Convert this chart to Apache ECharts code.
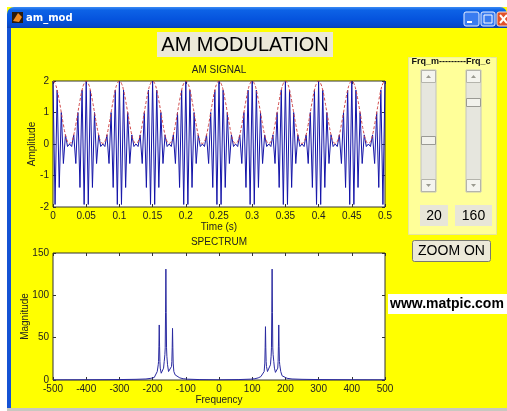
<!DOCTYPE html>
<html>
<head>
<meta charset="utf-8">
<script src="https://cdn.jsdelivr.net/npm/echarts@6/dist/echarts.min.js"></script>
<style>html,body{margin:0;padding:0;background:#fff;}#c{width:507px;height:411px;}</style>
</head>
<body>
<div id="c"></div>
<script>
// ---- AM signal (time in s) ----
const TIME = [
0,0.003125,0.00625,0.009375,0.0125,0.015625,0.01875,0.021875,0.025,0.028125,0.03125,0.034375,0.0375,0.040625,0.04375,0.046875,
0.05,0.053125,0.05625,0.059375,0.0625,0.065625,0.06875,0.071875,0.075,0.078125,0.08125,0.084375,0.0875,0.090625,0.09375,0.096875,
0.1,0.103125,0.10625,0.109375,0.1125,0.115625,0.11875,0.121875,0.125,0.128125,0.13125,0.134375,0.1375,0.140625,0.14375,0.146875,
0.15,0.153125,0.15625,0.159375,0.1625,0.165625,0.16875,0.171875,0.175,0.178125,0.18125,0.184375,0.1875,0.190625,0.19375,0.196875,
0.2,0.203125,0.20625,0.209375,0.2125,0.215625,0.21875,0.221875,0.225,0.228125,0.23125,0.234375,0.2375,0.240625,0.24375,0.246875,
0.25,0.253125,0.25625,0.259375,0.2625,0.265625,0.26875,0.271875,0.275,0.278125,0.28125,0.284375,0.2875,0.290625,0.29375,0.296875,
0.3,0.303125,0.30625,0.309375,0.3125,0.315625,0.31875,0.321875,0.325,0.328125,0.33125,0.334375,0.3375,0.340625,0.34375,0.346875,
0.35,0.353125,0.35625,0.359375,0.3625,0.365625,0.36875,0.371875,0.375,0.378125,0.38125,0.384375,0.3875,0.390625,0.39375,0.396875,
0.4,0.403125,0.40625,0.409375,0.4125,0.415625,0.41875,0.421875,0.425,0.428125,0.43125,0.434375,0.4375,0.440625,0.44375,0.446875,
0.45,0.453125,0.45625,0.459375,0.4625,0.465625,0.46875,0.471875,0.475,0.478125,0.48125,0.484375,0.4875,0.490625,0.49375,0.496875,
0.5];
const SIGNAL = [
2,-1.92,1.71,-1.38,1,-0.62,0.29,-0.08,0,-0.08,0.29,-0.62,1,-1.38,1.71,-1.92,
2,-1.92,1.71,-1.38,1,-0.62,0.29,-0.08,0,-0.08,0.29,-0.62,1,-1.38,1.71,-1.92,
2,-1.92,1.71,-1.38,1,-0.62,0.29,-0.08,0,-0.08,0.29,-0.62,1,-1.38,1.71,-1.92,
2,-1.92,1.71,-1.38,1,-0.62,0.29,-0.08,0,-0.08,0.29,-0.62,1,-1.38,1.71,-1.92,
2,-1.92,1.71,-1.38,1,-0.62,0.29,-0.08,0,-0.08,0.29,-0.62,1,-1.38,1.71,-1.92,
2,-1.92,1.71,-1.38,1,-0.62,0.29,-0.08,0,-0.08,0.29,-0.62,1,-1.38,1.71,-1.92,
2,-1.92,1.71,-1.38,1,-0.62,0.29,-0.08,0,-0.08,0.29,-0.62,1,-1.38,1.71,-1.92,
2,-1.92,1.71,-1.38,1,-0.62,0.29,-0.08,0,-0.08,0.29,-0.62,1,-1.38,1.71,-1.92,
2,-1.92,1.71,-1.38,1,-0.62,0.29,-0.08,0,-0.08,0.29,-0.62,1,-1.38,1.71,-1.92,
2,-1.92,1.71,-1.38,1,-0.62,0.29,-0.08,0,-0.08,0.29,-0.62,1,-1.38,1.71,-1.92,
2];
const ENVELOPE = [
2,1.92,1.71,1.38,1,0.62,0.29,0.08,0.02,0.08,0.29,0.62,1,1.38,1.71,1.92,
2,1.92,1.71,1.38,1,0.62,0.29,0.08,0.02,0.08,0.29,0.62,1,1.38,1.71,1.92,
2,1.92,1.71,1.38,1,0.62,0.29,0.08,0.02,0.08,0.29,0.62,1,1.38,1.71,1.92,
2,1.92,1.71,1.38,1,0.62,0.29,0.08,0.02,0.08,0.29,0.62,1,1.38,1.71,1.92,
2,1.92,1.71,1.38,1,0.62,0.29,0.08,0.02,0.08,0.29,0.62,1,1.38,1.71,1.92,
2,1.92,1.71,1.38,1,0.62,0.29,0.08,0.02,0.08,0.29,0.62,1,1.38,1.71,1.92,
2,1.92,1.71,1.38,1,0.62,0.29,0.08,0.02,0.08,0.29,0.62,1,1.38,1.71,1.92,
2,1.92,1.71,1.38,1,0.62,0.29,0.08,0.02,0.08,0.29,0.62,1,1.38,1.71,1.92,
2,1.92,1.71,1.38,1,0.62,0.29,0.08,0.02,0.08,0.29,0.62,1,1.38,1.71,1.92,
2,1.92,1.71,1.38,1,0.62,0.29,0.08,0.02,0.08,0.29,0.62,1,1.38,1.71,1.92,
2];
// ---- Spectrum ----
const FREQ = [-500,-400,-300,-250,-220,-205,-195,-190,-186,-183,-182,-181,-180,-179,-178,-177,-174,-170,-167,-165,-163,-162,-161,-160,-159,-158,-157,-155,-152,-149,-146,-143,-142,-141,-140,-139,-138,-136,-132,-126,-118,-108,-95,-60,
0,60,95,108,118,126,132,136,138,139,140,141,142,143,146,149,152,155,157,158,159,160,161,162,163,165,167,170,174,177,178,179,180,181,182,183,186,190,195,205,220,250,300,400,500];
const MAG = [0.2,0.3,0.5,0.8,1.2,2,3,5,10,18,22,40,65,40,22,14,8,9,14,22,30,38,80,131,80,38,28,18,10,8,10,16,22,38,61,38,20,10,6,4,2.5,1.5,1,0.5,
0.2,0.5,1,1.5,2.5,4,6,10,20,38,63,38,22,16,10,8,10,18,28,38,80,131,80,38,30,22,14,9,8,14,22,40,65,40,22,18,10,5,3,2,1.2,0.8,0.5,0.3,0.2];

const AMP_TICKS = ['-2','-1','0','1','2'];
const TIME_TICKS = ['0','0.05','0.1','0.15','0.2','0.25','0.3','0.35','0.4','0.45','0.5'];
const FREQ_TICKS = ['-500','-400','-300','-200','-100','0','100','200','300','400','500'];
const MAG_TICKS = ['0','50','100','150'];
const SLIDER_VALUES = ['20','160'];

const FONT = 'Liberation Sans, Arial, sans-serif';
const lbl = {fontSize:10, color:'#222', fontFamily:FONT};
const tick = {show:true, inside:true, length:3, lineStyle:{color:'#333'}};

function xAx(grid, min, max, interval, labels, name, gap, main){
  return {type:'value', gridIndex:grid, min, max, interval, position: main?'bottom':'top',
    axisLine:{show:false, onZero:false}, axisTick:tick, splitLine:{show:false},
    axisLabel: main ? Object.assign({margin:4, formatter:(v)=>labels[Math.round((v-min)/interval)]}, lbl) : {show:false},
    name: main?name:'', nameLocation:'middle', nameGap:gap, nameTextStyle:lbl};
}
function yAx(grid, min, max, interval, labels, name, gap, main){
  return {type:'value', gridIndex:grid, min, max, interval, position: main?'left':'right',
    axisLine:{show:false, onZero:false}, axisTick:tick, splitLine:{show:false},
    axisLabel: main ? Object.assign({margin:4, formatter:(v)=>labels[Math.round((v-min)/interval)]}, lbl) : {show:false},
    name: main?name:'', nameLocation:'middle', nameGap:gap, nameMoveOverlap:false, nameTextStyle:lbl};
}

const chart = echarts.init(document.getElementById('c'), null, {renderer:'canvas'});

function arrow(x, y, up){
  const cx = x+7.5;
  return {type:'polygon', z:10, shape:{points: up ? [[cx-2.5,y+2],[cx+2.5,y+2],[cx,y-1]] : [[cx-2.5,y-1],[cx+2.5,y-1],[cx,y+2]]}, style:{fill:'#9a9a90'}};
}
function slider(x, thumbY){
  return [
    {type:'rect', z:10, shape:{x:x,y:70,width:15,height:122}, style:{fill:'#e6e6de', stroke:'#c4c4bc', lineWidth:1}},
    {type:'rect', z:10, shape:{x:x+0.5,y:70.5,width:14,height:12}, style:{fill:'#f4f4ee', stroke:'#b4b4ac', lineWidth:1}},
    arrow(x, 76, true),
    {type:'rect', z:10, shape:{x:x+0.5,y:179.5,width:14,height:12}, style:{fill:'#f4f4ee', stroke:'#b4b4ac', lineWidth:1}},
    arrow(x, 185, false),
    {type:'rect', z:10, shape:{x:x+0.5,y:thumbY+0.5,width:14,height:8}, style:{fill:'#f2f2ec', stroke:'#9a9a94', lineWidth:1}}
  ];
}

const graphic = [
  {type:'rect', z:1, shape:{x:0,y:0,width:507,height:7}, style:{fill:'#fff'}},
  {type:'rect', z:1, shape:{x:0,y:0,width:7,height:411}, style:{fill:'#fff'}},
  {type:'rect', z:2, shape:{x:7,y:20,width:4,height:391}, style:{fill:'#1452d4'}},
  {type:'rect', z:2, shape:{x:7,y:7,width:500,height:21,r:[7,7,0,0]}, style:{fill:new echarts.graphic.LinearGradient(0,0,0,1,[
    {offset:0,color:'#3b8cf5'},{offset:0.15,color:'#0d62e6'},{offset:0.6,color:'#0553dd'},{offset:0.9,color:'#0648c8'},{offset:1,color:'#0a3fae'}])}},
  {type:'rect', z:3, shape:{x:12,y:12,width:11,height:11}, style:{fill:'#2a1a10'}},
  {type:'polygon', z:4, shape:{points:[[13,21],[18,13],[22,17],[19,22]]}, style:{fill:'#f08a20'}},
  {type:'text', z:3, x:26, y:18, style:{text:'am_mod', fill:'#fff', font:'bold 10px "DejaVu Sans", sans-serif', verticalAlign:'middle'}},
  {type:'rect', z:3, shape:{x:464,y:12,width:15,height:14,r:2}, style:{fill:'#3a7cf0', stroke:'#e8f0ff', lineWidth:1}},
  {type:'rect', z:4, shape:{x:467,y:21,width:5,height:2}, style:{fill:'#fff'}},
  {type:'rect', z:3, shape:{x:481,y:12,width:14,height:14,r:2}, style:{fill:'#3a7cf0', stroke:'#e8f0ff', lineWidth:1}},
  {type:'rect', z:4, shape:{x:484,y:15,width:8,height:8}, style:{fill:'none', stroke:'#fff', lineWidth:1}},
  {type:'rect', z:3, shape:{x:497,y:12,width:14,height:14,r:2}, style:{fill:'#e2522a', stroke:'#f4e0d8', lineWidth:1}},
  {type:'polyline', z:4, shape:{points:[[500,15],[507,23]]}, style:{stroke:'#fff', lineWidth:2}},
  {type:'polyline', z:4, shape:{points:[[507,15],[500,23]]}, style:{stroke:'#fff', lineWidth:2}},
  {type:'rect', z:2, shape:{x:7,y:408,width:500,height:3}, style:{fill:'#c8c8c0'}},
  // title
  {type:'rect', z:3, shape:{x:157,y:32,width:176,height:25}, style:{fill:'#ece9d8'}},
  {type:'text', z:4, x:245, y:45, style:{text:'AM MODULATION', fill:'#000', font:'20px "Liberation Sans", Arial, sans-serif', align:'center', verticalAlign:'middle'}},
  {type:'text', z:4, x:219, y:70, style:{text:'AM SIGNAL', fill:'#222', font:'10px "Liberation Sans", Arial, sans-serif', align:'center', verticalAlign:'middle'}},
  {type:'text', z:4, x:219, y:242, style:{text:'SPECTRUM', fill:'#222', font:'10px "Liberation Sans", Arial, sans-serif', align:'center', verticalAlign:'middle'}},
  // control panel
  {type:'rect', z:3, shape:{x:408.5,y:57.5,width:88,height:177}, style:{fill:'#ffff99', stroke:'#e6e6a0', lineWidth:1}},
  {type:'text', z:4, x:451, y:62, style:{text:'Frq_m---------Frq_c', fill:'#111', font:'bold 9px "Liberation Sans", Arial, sans-serif', align:'center', verticalAlign:'middle', backgroundColor:'#ffff99'}},
  ...slider(421, 136),
  ...slider(466, 98),
  {type:'rect', z:10, shape:{x:420,y:205,width:28,height:21}, style:{fill:'#e8e6d8'}},
  {type:'text', z:11, x:434, y:216, style:{text:SLIDER_VALUES[0], fill:'#000', font:'14px "Liberation Sans", Arial, sans-serif', align:'center', verticalAlign:'middle'}},
  {type:'rect', z:10, shape:{x:455,y:205,width:37,height:21}, style:{fill:'#e8e6d8'}},
  {type:'text', z:11, x:473.5, y:216, style:{text:SLIDER_VALUES[1], fill:'#000', font:'14px "Liberation Sans", Arial, sans-serif', align:'center', verticalAlign:'middle'}},
  {type:'rect', z:10, shape:{x:412.5,y:240.5,width:78,height:21,r:2}, style:{fill:'#ece9d8', stroke:'#7a7a70', lineWidth:1}},
  {type:'text', z:11, x:451.5, y:251.5, style:{text:'ZOOM ON', fill:'#000', font:'14px "Liberation Sans", Arial, sans-serif', align:'center', verticalAlign:'middle'}},
  {type:'rect', z:10, shape:{x:388,y:294,width:119,height:20}, style:{fill:'#fff'}},
  {type:'text', z:11, x:390, y:304.5, style:{text:'www.matpic.com', fill:'#000', font:'bold 14px "Liberation Sans", Arial, sans-serif', verticalAlign:'middle'}}
];

const option = {
  backgroundColor:'#ffff00',
  animation:false,
  grid:[
    {left:53, top:81, width:332, height:126, show:true, backgroundColor:'#fff', borderColor:'#333', borderWidth:1},
    {left:53, top:253, width:332, height:127, show:true, backgroundColor:'#fff', borderColor:'#333', borderWidth:1}
  ],
  xAxis:[
    xAx(0, 0, 0.5, 0.05, TIME_TICKS, 'Time (s)', 14, true),
    xAx(0, 0, 0.5, 0.05, TIME_TICKS, '', 0, false),
    xAx(1, -500, 500, 100, FREQ_TICKS, 'Frequency', 15, true),
    xAx(1, -500, 500, 100, FREQ_TICKS, '', 0, false)
  ],
  yAxis:[
    yAx(0, -2, 2, 1, AMP_TICKS, 'Amplitude', 16, true),
    yAx(0, -2, 2, 1, AMP_TICKS, '', 0, false),
    yAx(1, 0, 150, 50, MAG_TICKS, 'Magnitude', 23, true),
    yAx(1, 0, 150, 50, MAG_TICKS, '', 0, false)
  ],
  series:[
    {type:'line', xAxisIndex:0, yAxisIndex:0, showSymbol:false, symbol:'none', data:TIME.map((t,i)=>[t,SIGNAL[i]]), lineStyle:{color:'#1414a8', width:1}, z:3},
    {type:'line', xAxisIndex:0, yAxisIndex:0, showSymbol:false, symbol:'none', smooth:true, data:TIME.map((t,i)=>[t,ENVELOPE[i]]), lineStyle:{color:'#d04848', width:1, type:[3,2]}, z:4},
    {type:'line', xAxisIndex:2, yAxisIndex:2, showSymbol:false, symbol:'none', data:FREQ.map((f,i)=>[f,MAG[i]]), lineStyle:{color:'#2a2aa0', width:1}, z:3}
  ],
  graphic: graphic
};
chart.setOption(option);
</script>
</body>
</html>
